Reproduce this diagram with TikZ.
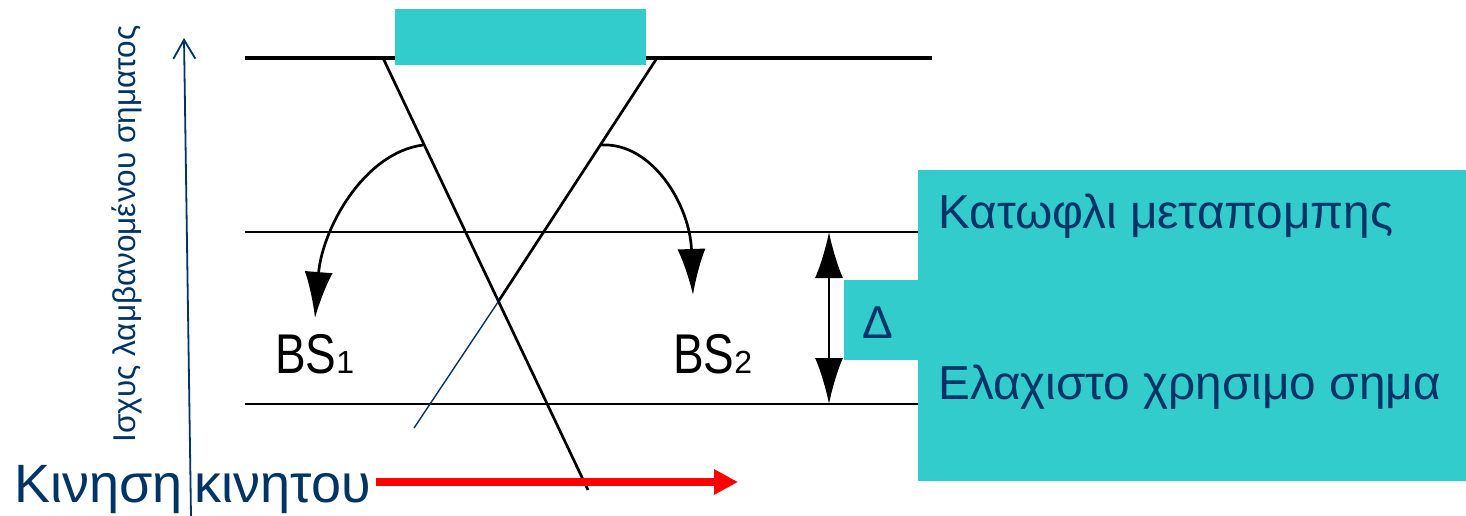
\documentclass[tikz,border=0pt]{standalone}
\usepackage{fontspec}
\setmainfont{Liberation Sans}
\usetikzlibrary{arrows.meta}
\definecolor{cyanbox}{RGB}{51,204,204}
\definecolor{navy}{RGB}{0,51,102}
\begin{document}
\begin{tikzpicture}[x=1pt,y=-1pt,
  levelline/.style={black,line width=2.8pt},
  crossline/.style={black,line width=2.7pt},
  bigtip/.style={-{Latex[length=46pt,width=28pt]}},
  cbox/.style={fill=cyanbox,draw=none,inner sep=0pt,anchor=north west},
  navytext/.style={navy,inner sep=0pt,anchor=base west},
  bstext/.style={black,inner sep=0pt,anchor=base west}]
\useasboundingbox (0,0) rectangle (1466,516);
% coordinates
\coordinate (T1) at (245,58);  \coordinate (T2) at (932,58);
\coordinate (M1) at (245,232); \coordinate (M2) at (918,232);
\coordinate (B1) at (245,404); \coordinate (B2) at (918,404);
\coordinate (A1) at (383,58);  \coordinate (A2) at (588,490);
\coordinate (C1) at (657,58);  \coordinate (X) at (498,302);
\coordinate (C3) at (414,428);
\coordinate (S1) at (423,145); \coordinate (E1) at (315,318);
\coordinate (S2) at (601,145); \coordinate (E2) at (693,295);
\coordinate (Dt) at (829,232); \coordinate (Db) at (829,404);
\coordinate (Ax0) at (191,516); \coordinate (Ax1) at (184,38);
\coordinate (R0) at (376,482); \coordinate (R1) at (738,482);
% level lines
\draw[levelline,line width=3.5pt] (T1) -- (T2);
\draw[levelline] (M1) -- (M2);
\draw[levelline] (B1) -- (B2);
% crossing lines
\draw[crossline] (A1) -- (A2);
\draw[crossline] (C1) -- (X);
\draw[navy,line width=1.4pt] (X) -- (C3);
% curved arrows
\draw[black,line width=2.7pt,bigtip] (S1) .. controls (363,153) and (322,230) .. (E1);
\draw[black,line width=2.7pt,bigtip] (S2) .. controls (652,142) and (690,205) .. (E2);
% delta double arrow
\draw[black,line width=2.2pt,{Latex[length=46pt,width=28pt]}-{Latex[length=46pt,width=28pt]}] (Dt) -- (Db);
% boxes
\node[cbox,minimum width=251pt,minimum height=56pt] (topbox) at (395,9) {};
\node[cbox,minimum width=548pt,minimum height=311pt] (bigbox) at (918,170) {};
\node[cbox,minimum width=75pt,minimum height=80pt] (dbox) at (844,280) {};
% axis
\draw[navy,line width=1.8pt,-{Straight Barb[length=19pt,width=22pt]}] (Ax0) -- (Ax1);
\node[navy,rotate=90,anchor=base,inner sep=0pt,font=\fontsize{31.5}{36}\selectfont] (ylabel) at (135,234) {Ισχυς λαμβανομένου σηματος};
% red arrow
\draw[red,line width=8pt,-{Triangle[length=24pt,width=24pt]}] (R0) -- (R1);
% texts
\node[navytext,font=\fontsize{47.7}{58}\selectfont] (thr) at (938,228) {Κατωφλι μεταπομπης};
\node[navytext,font=\fontsize{47.7}{58}\selectfont] (min) at (938,399) {Ελαχιστο χρησιμο σημα};
\node[navytext,font=\fontsize{46}{54}\selectfont] (delta) at (862,338) {Δ};
\node[navytext,font=\fontsize{54}{64}\selectfont] (move) at (14,502) {Κινηση\hspace{-0.05em} κινητου};
\node[bstext] (bs1) at (275,373) {\fontsize{56}{64}\selectfont\scalebox{0.82}[1]{BS}\fontsize{32}{36}\selectfont 1};
\node[bstext] (bs2) at (673,373) {\fontsize{56}{64}\selectfont\scalebox{0.82}[1]{BS}\fontsize{32}{36}\selectfont 2};
\end{tikzpicture}
\end{document}
